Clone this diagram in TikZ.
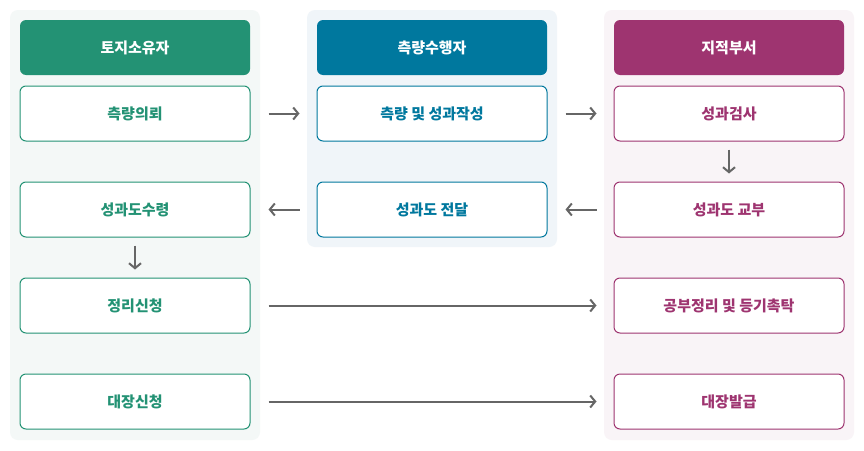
\documentclass[tikz,border=0pt]{standalone}
\usepackage{fontspec}
\newfontfamily\kr{Noto Sans CJK KR}
\usetikzlibrary{arrows.meta}
\definecolor{cgreen}{HTML}{239274}
\definecolor{cblue}{HTML}{00789E}
\definecolor{cpurple}{HTML}{9E3470}
\definecolor{bggreen}{HTML}{F4F8F7}
\definecolor{bgblue}{HTML}{F0F5F9}
\definecolor{bgpurple}{HTML}{F9F4F7}
\definecolor{arr}{HTML}{666666}
\tikzset{
  lane/.style={rounded corners=8pt, draw=none},
  head/.style={rounded corners=6pt, minimum width=230pt, minimum height=55pt, inner sep=0pt, text=white, font=\kr\bfseries\fontsize{15pt}{17pt}\selectfont},
  boxn/.style={rounded corners=6pt, fill=white, line width=1pt, minimum width=230pt, minimum height=55pt, inner sep=0pt, font=\kr\bfseries\fontsize{15pt}{17pt}\selectfont},
  flow/.style={draw=arr, line width=2pt, -{Straight Barb[length=5pt,width=12pt,line width=2pt]}}
}
\begin{document}
\begin{tikzpicture}[x=1pt,y=-1pt]
\useasboundingbox (0,0) rectangle (864,450);
\fill[white] (0,0) rectangle (864,450);
\fill[lane, bggreen] (10,10) rectangle (260,440);
\fill[lane, bgblue] (307,10) rectangle (557,247);
\fill[lane, bgpurple] (604,10) rectangle (854,440);

\node[head, fill=cgreen] (h1) at (135,47.5) {토지소유자};
\node[head, fill=cblue] (h2) at (432,47.5) {측량수행자};
\node[head, fill=cpurple] (h3) at (729,47.5) {지적부서};

\node[boxn, draw=cgreen, text=cgreen] (a1) at (135,113.5) {측량의뢰};
\node[boxn, draw=cgreen, text=cgreen] (a2) at (135,209.5) {성과도수령};
\node[boxn, draw=cgreen, text=cgreen] (a3) at (135,305.5) {정리신청};
\node[boxn, draw=cgreen, text=cgreen] (a4) at (135,401.5) {대장신청};

\node[boxn, draw=cblue, text=cblue] (b1) at (432,113.5) {측량 및 성과작성};
\node[boxn, draw=cblue, text=cblue] (b2) at (432,209.5) {성과도 전달};

\node[boxn, draw=cpurple, text=cpurple] (c1) at (729,113.5) {성과검사};
\node[boxn, draw=cpurple, text=cpurple] (c2) at (729,209.5) {성과도 교부};
\node[boxn, draw=cpurple, text=cpurple] (c3) at (729,305.5) {공부정리 및 등기촉탁};
\node[boxn, draw=cpurple, text=cpurple] (c4) at (729,401.5) {대장발급};

\draw[flow] ([xshift=18pt]a1.east) -- ([xshift=-17pt]b1.west);
\draw[flow] ([xshift=18pt]b1.east) -- ([xshift=-17pt]c1.west);
\draw[flow] ([xshift=-17pt]c2.west) -- ([xshift=18pt]b2.east);
\draw[flow] ([xshift=-17pt]b2.west) -- ([xshift=18pt]a2.east);
\draw[flow] ([yshift=-8pt]a2.south) -- ([yshift=8pt]a3.north);
\draw[flow] ([yshift=-8pt]c1.south) -- ([yshift=8pt]c2.north);
\draw[flow] ([xshift=18pt]a3.east) -- ([xshift=-17pt]c3.west);
\draw[flow] ([xshift=18pt]a4.east) -- ([xshift=-17pt]c4.west);
\end{tikzpicture}
\end{document}
